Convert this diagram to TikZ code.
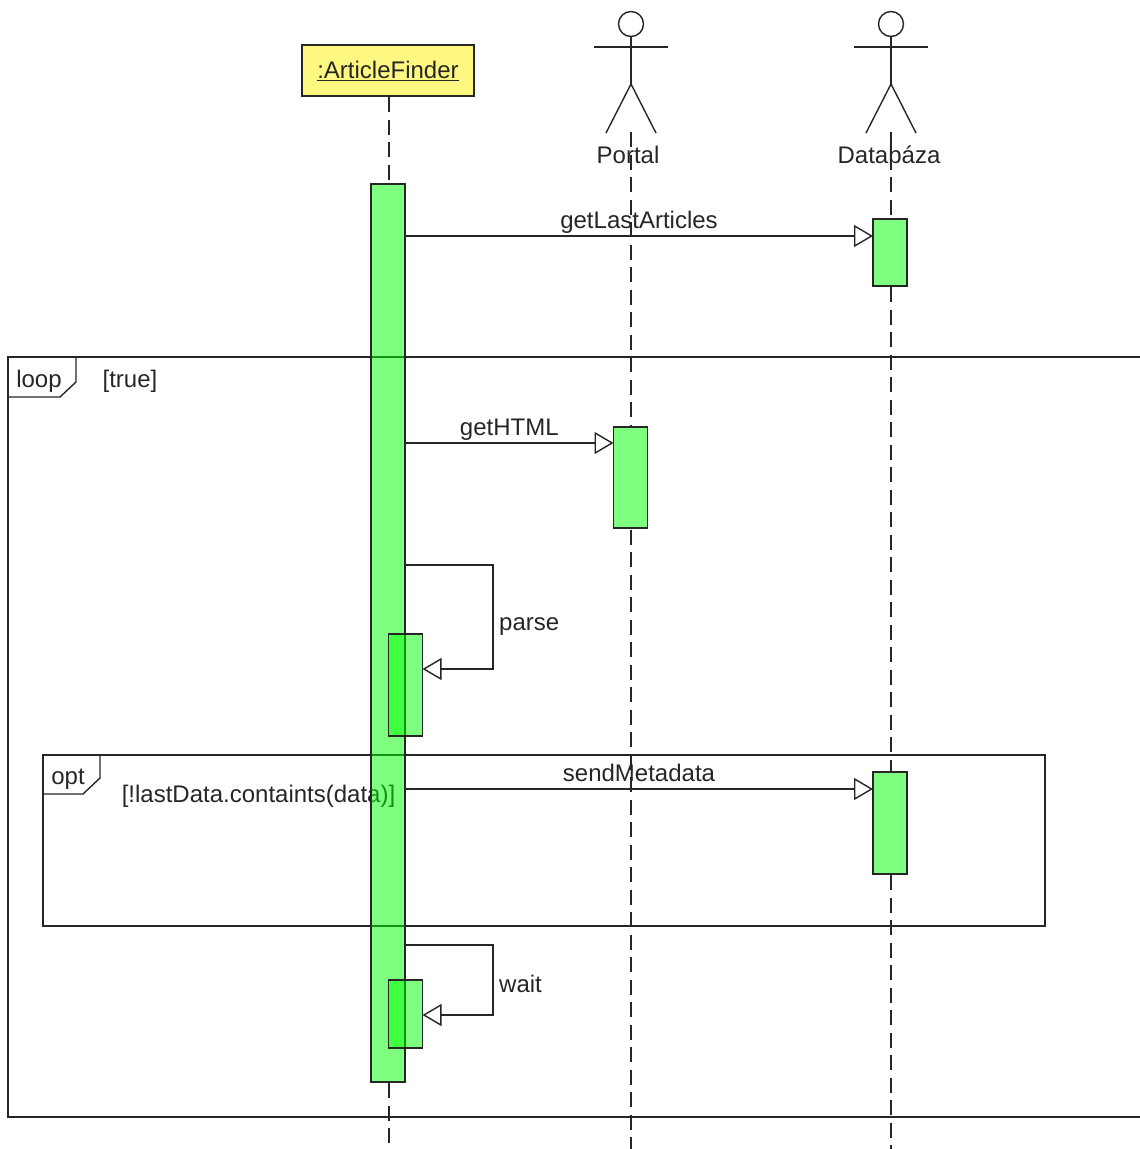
\documentclass[tikz,border=0pt]{standalone}
\usepackage{fontspec}
\setmainfont{Liberation Sans}
\usepackage{tikz}
\usetikzlibrary{arrows.meta, positioning}

\begin{document}
\begin{tikzpicture}[
            x=1pt, y=-1pt,
            every node/.style={font=\fontsize{24}{28}\selectfont, text=black!85},
            line width=1.4pt, black!85,
            head/.style={rectangle, draw, fill=yellow!50, minimum width=172pt, minimum height=51pt, outer sep=0pt},
            bar/.style={rectangle, draw=black!85, fill=green, fill opacity=0.5, draw opacity=1, minimum width=34pt, outer sep=0pt, inner sep=0pt},
            lifeline/.style={dash pattern=on 15pt off 7.5pt},
            frame/.style={rectangle, draw, outer sep=0pt, inner sep=0pt},
            msg/.style={-{Triangle[open, fill=white, length=19pt, width=22pt]}},
            weight/.style={inner sep=1.5pt, text depth=5pt}
        ]
        \useasboundingbox (0,0) rectangle (1140,1149);

        % Frames (below the bars)
        \node[frame, minimum width=1142pt, minimum height=760pt] (loopframe) at (579,737) {};
        \node[frame, minimum width=1002pt, minimum height=171pt] (optframe) at (544,840.5) {};
        \draw (76,357) -- (76,382) -- (60,397) -- (8,397);
        \draw (100,755) -- (100,778) -- (83,794) -- (43,794);
        \node (looptag) at (39,381) {loop};
        \node (loopguard) at (130,381) {[true]};
        \node (opttag) at (68,779) {opt};
        \node (optguard) at (258.5,796) {[!lastData.containts(data)]};

        % Activation bars
        \node[bar, minimum height=898pt] (finderbar) at (388,633) {};
        \node[bar, minimum height=67pt] (dbbarA) at (890,252.5) {};
        \node[bar, minimum height=101pt] (portalbar) at (630.5,477.5) {};
        \node[bar, minimum height=102pt] (parsebar) at (405.5,685) {};
        \node[bar, minimum height=102pt] (dbbarB) at (890,823) {};
        \node[bar, minimum height=68pt] (waitbar) at (405.5,1014) {};

        % Participants
        \node[head] (finder) at (388,70.5) {\underline{:ArticleFinder}};
        \node (portal) at (628,154.5) {Portal};
        \node (db) at (889,154.5) {Databáza};

        \foreach \name/\px in {portal/631, db/891} {
            \draw (\px,24) circle (12.5);
            \draw (\px,36.5) -- (\px,84);
            \draw (\px-37,47) -- (\px+37,47);
            \draw (\px-25,133) -- (\px,84) -- (\px+25,133);
        }

        % Lifeline ends
        \coordinate (findertop) at (389,97);
        \coordinate (finderbot) at (389,1083);
        \coordinate (finderend) at (389,1145);
        \coordinate (portaltop) at (631,132);
        \coordinate (portalA) at (631,427);
        \coordinate (portalB) at (631,529.5);
        \coordinate (portalend) at (631,1149);
        \coordinate (dbtop) at (891,132);
        \coordinate (dbA) at (891,219);
        \coordinate (dbB) at (891,287);
        \coordinate (dbC) at (891,772);
        \coordinate (dbD) at (891,875);
        \coordinate (dbend) at (891,1149);

        % Lifelines
        \draw[lifeline] (findertop) -- (finderbar.north -| findertop);
        \draw[lifeline] (finderbot) -- (finderend);
        \draw[lifeline] (portaltop) -- (portalA);
        \draw[lifeline] (portalB) -- (portalend);
        \draw[lifeline] (dbtop) -- (dbA);
        \draw[lifeline] (dbB) -- (dbC);
        \draw[lifeline] (dbD) -- (dbend);

        % Messages
        \coordinate (getlastout) at (405,236);
        \coordinate (gethtmlout) at (405,443);
        \coordinate (sendout) at (405,789);
        \coordinate (parseout) at (405,565);
        \coordinate (parsein) at (422.5,669);
        \coordinate (waitout) at (405,945);
        \coordinate (waitin) at (422.5,1015);

        \draw[msg] (getlastout) -- node[weight, above] {getLastArticles} (dbbarA.west |- getlastout);
        \draw[msg] (gethtmlout) -- node[weight, above] {getHTML} (portalbar.west |- gethtmlout);
        \draw[msg] (sendout) -- node[weight, above] {sendMetadata} (dbbarB.west |- sendout);

        \draw[msg] (parseout) -- ++(88,0) |- node[weight, right, pos=0.27, xshift=4pt, yshift=-5pt] {parse} (parsein);
        \draw[msg] (waitout) -- ++(88,0) |- node[weight, right, pos=0.28, xshift=4pt, yshift=-2pt] {wait} (waitin);

        \end{tikzpicture}
\end{document}
